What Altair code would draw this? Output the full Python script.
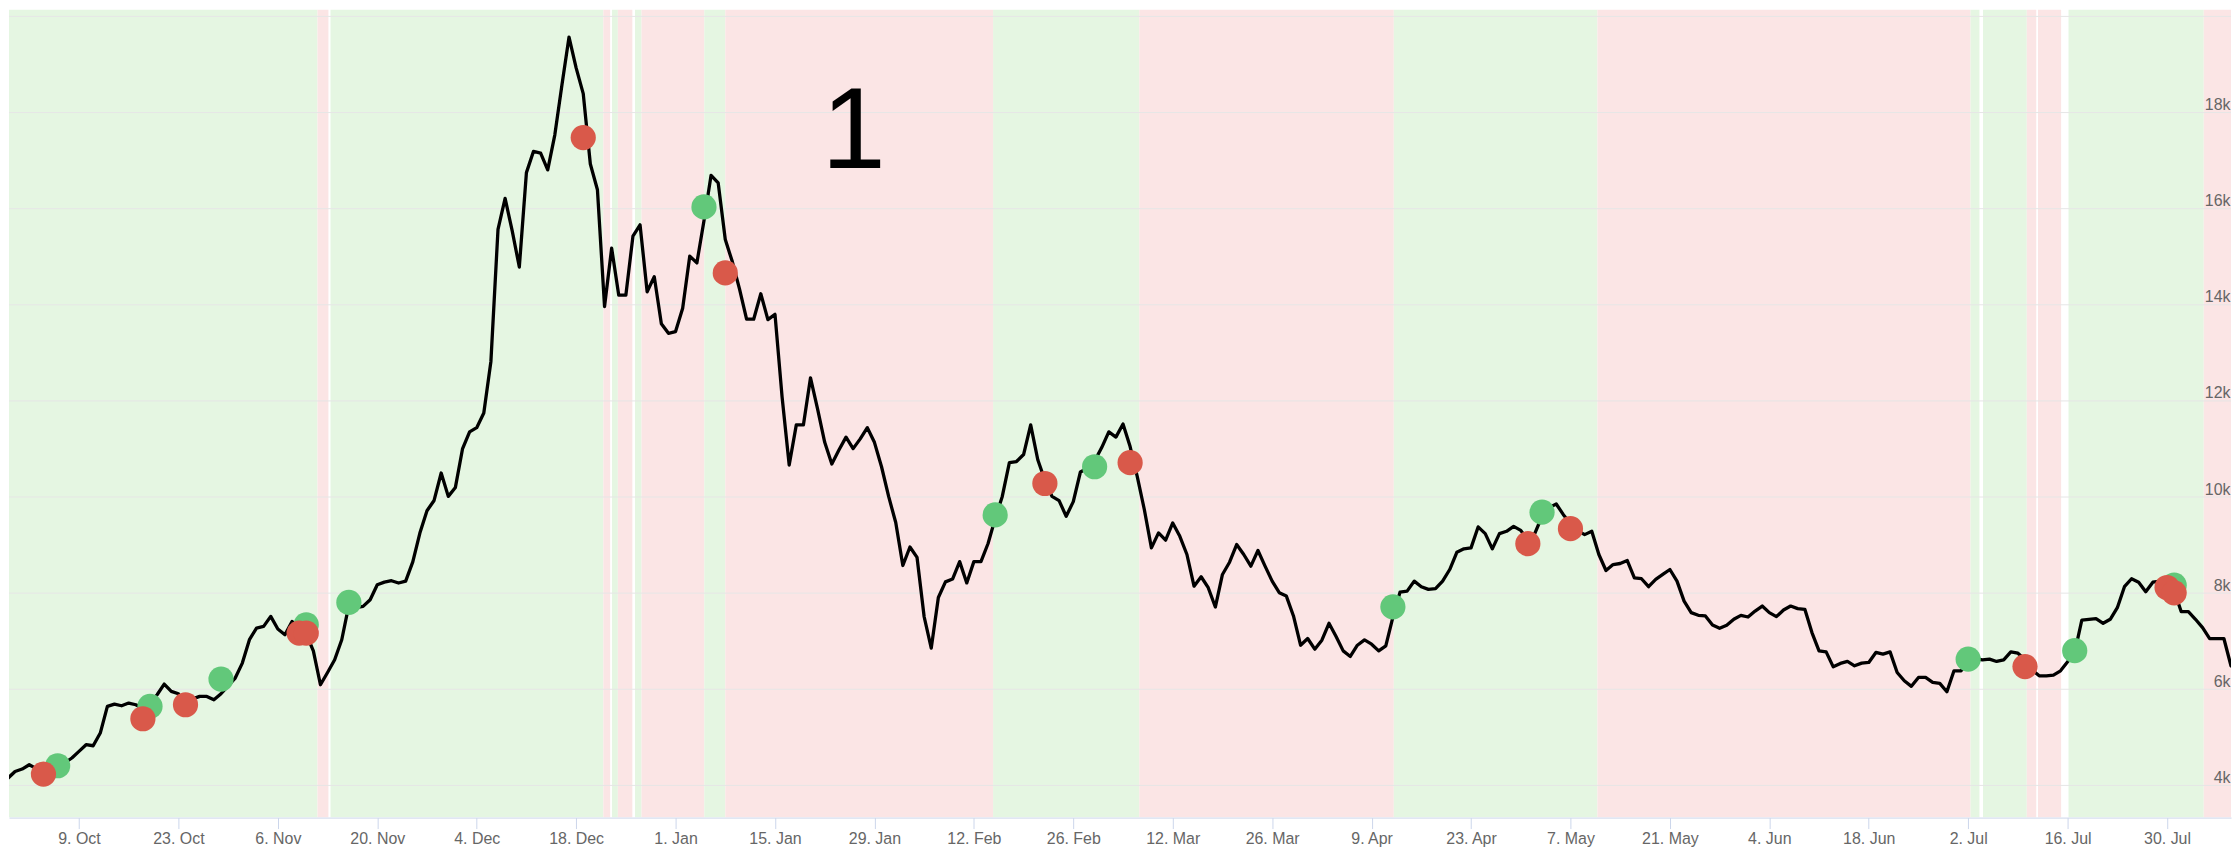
import altair as alt
import pandas as pd

# ---------------- data ----------------
price_start = "2017-09-28"
prices = [
    4190, 4150, 4290, 4340, 4430, 4350, 4260, 4340, 4400, 4470,
    4570, 4707, 4846, 4825, 5089, 5644, 5692, 5657, 5713, 5678,
    5600, 5720, 5886, 6108, 5956, 5907, 5600, 5800, 5852, 5852,
    5782, 5907, 6070, 6233, 6545, 7031, 7274, 7308, 7517, 7253,
    7135, 7412, 7250, 7150, 6800, 6094, 6350, 6615, 7031, 7750,
    7700, 7725, 7863, 8176, 8230, 8259, 8211, 8250, 8650, 9250,
    9714, 9929, 10500, 10014, 10200, 11000, 11357, 11443, 11750, 12821,
    15571, 16214, 15536, 14786, 16750, 17193, 17157, 16807, 17536, 18571,
    19571, 18929, 18393, 16929, 16393, 13964, 15179, 14200, 14200, 15429,
    15664, 14271, 14586, 13607, 13407, 13443, 13929, 15014, 14871, 15750,
    16693, 16536, 15357, 14893, 14330, 13700, 13700, 14230, 13692, 13801,
    12081, 10666, 11501, 11501, 12480, 11827, 11138, 10688, 10978, 11247,
    11007, 11210, 11443, 11138, 10630, 10013, 9469, 8576, 8961, 8743,
    7509, 6856, 7909, 8235, 8293, 8656, 8213, 8656, 8656, 9033,
    9550, 10013, 10717, 10739, 10884, 11501, 10775, 10350, 10013, 9926,
    9599, 9904, 10521, 10600, 10750, 11029, 11356, 11247, 11520, 11050,
    10430, 9740, 8942, 9254, 9103, 9461, 9183, 8804, 8146, 8341,
    8113, 7711, 8389, 8644, 9011, 8804, 8561, 8887, 8561, 8250,
    8010, 7939, 7525, 6917, 7056, 6834, 7021, 7373, 7097, 6799,
    6683, 6917, 7027, 6938, 6799, 6903, 7500, 8022, 8043, 8250,
    8134, 8078, 8092, 8250, 8492, 8851, 8922, 8942, 9378, 9239,
    8922, 9239, 9287, 9390, 9307, 9100, 9250, 9600, 9780, 9855,
    9633, 9450, 9300, 9218, 9287, 8804, 8472, 8596, 8617, 8679,
    8320, 8300, 8134, 8285, 8389, 8492, 8250, 7835, 7595, 7539,
    7525, 7338, 7269, 7332, 7456, 7539, 7504, 7628, 7732, 7595,
    7512, 7649, 7732, 7678, 7663, 7180, 6799, 6778, 6467, 6538,
    6579, 6488, 6544, 6558, 6766, 6731, 6778, 6350, 6177, 6061,
    6247, 6247, 6144, 6123, 5949, 6384, 6384, 6580, 6640, 6612,
    6627, 6579, 6612, 6778, 6751, 6620, 6400, 6280, 6280, 6295,
    6384, 6571, 6766, 7441, 7456, 7470, 7373, 7456, 7698, 8134,
    8300, 8229, 8030, 8229, 8250, 8150, 8050, 7615, 7615, 7456,
    7284, 7056, 7056, 7056, 6488, 6384,
]

band_starts = [
    "2017-09-28T00:00:00Z", "2017-11-11T14:00:00Z", "2017-11-13T10:00:00Z",
    "2017-12-21T20:00:00Z", "2017-12-23T01:00:00Z", "2017-12-23T21:00:00Z",
    "2017-12-26T07:00:00Z", "2017-12-27T05:00:00Z", "2018-01-05T01:00:00Z",
    "2018-01-08T00:00:00Z", "2018-02-14T17:00:00Z", "2018-03-07T07:00:00Z",
    "2018-04-12T03:00:00Z", "2018-05-10T19:00:00Z", "2018-07-02T08:00:00Z",
    "2018-07-04T02:00:00Z", "2018-07-10T06:00:00Z", "2018-07-11T20:00:00Z",
    "2018-07-16T03:00:00Z", "2018-08-04T04:00:00Z",
]
band_ends = [
    "2017-11-11T14:00:00Z", "2017-11-13T03:00:00Z", "2017-12-21T20:00:00Z",
    "2017-12-22T19:00:00Z", "2017-12-23T21:00:00Z", "2017-12-25T22:00:00Z",
    "2017-12-27T05:00:00Z", "2018-01-05T01:00:00Z", "2018-01-08T00:00:00Z",
    "2018-02-14T17:00:00Z", "2018-03-07T07:00:00Z", "2018-04-12T03:00:00Z",
    "2018-05-10T19:00:00Z", "2018-07-02T08:00:00Z", "2018-07-03T14:00:00Z",
    "2018-07-10T06:00:00Z", "2018-07-11T14:00:00Z", "2018-07-15T02:00:00Z",
    "2018-08-04T04:00:00Z", "2018-08-09T00:00:00Z",
]
band_kinds = [
    "up", "down", "up", "down", "up", "down", "up", "down", "up", "down",
    "up", "down", "up", "down", "up", "up", "down", "down", "up", "down",
]

buy_dates = ["2017-10-06", "2017-10-19", "2017-10-29", "2017-11-10", "2017-11-16",
             "2018-01-05", "2018-02-15", "2018-03-01", "2018-04-12", "2018-05-03",
             "2018-07-02", "2018-07-17", "2018-07-31"]
buy_prices = [4409, 5644, 6212, 7343, 7808, 16036, 9628, 10630, 7716, 9685,
              6626, 6804, 8166]

sell_dates = ["2017-10-04", "2017-10-18", "2017-10-24", "2017-11-09", "2017-11-10",
              "2017-12-19", "2018-01-08", "2018-02-22", "2018-03-06", "2018-05-01",
              "2018-05-07", "2018-07-10", "2018-07-30", "2018-07-31"]
sell_prices = [4235, 5387, 5678, 7170, 7170, 17479, 14664, 10282, 10715, 9030,
               9341, 6472, 8118, 8006]

tick_dates = ["2017-10-09", "2017-10-23", "2017-11-06", "2017-11-20", "2017-12-04",
              "2017-12-18", "2018-01-01", "2018-01-15", "2018-01-29", "2018-02-12",
              "2018-02-26", "2018-03-12", "2018-03-26", "2018-04-09", "2018-04-23",
              "2018-05-07", "2018-05-21", "2018-06-04", "2018-06-18", "2018-07-02",
              "2018-07-16", "2018-07-30"]
y_label_values = [4000, 6000, 8000, 10000, 12000, 14000, 16000, 18000]
grid_values = [4000, 6000, 8000, 10000, 12000, 14000, 16000, 18000, 20000]

x_domain_dates = ["2017-09-29T03:33:00Z", "2018-08-08T00:05:00Z"]
y_domain = [3330, 20144]

note_dates = ["2018-01-26T02:00:00Z"]
note_prices = [16848]
note_texts = ["1"]

GREEN_BAND = "#e5f6e2"
RED_BAND = "#fbe5e5"
GREEN_DOT = "#62c87a"
RED_DOT = "#d9594a"
FONT = "Liberation Sans"


def ms(s):
    t = pd.Timestamp(s)
    if t.tzinfo is None:
        t = t.tz_localize("UTC")
    return int(t.value // 10**6)


# ---------------- tables ----------------
line_df = pd.DataFrame({
    "date": pd.date_range(price_start, periods=len(prices), freq="D").strftime("%Y-%m-%d"),
    "price": prices,
})
band_df = pd.DataFrame({"start": band_starts, "end": band_ends, "kind": band_kinds})
buy_df = pd.DataFrame({"date": buy_dates, "price": buy_prices})
sell_df = pd.DataFrame({"date": sell_dates, "price": sell_prices})
grid_df = pd.DataFrame({"price": grid_values})
note_df = pd.DataFrame({"date": note_dates, "price": note_prices, "text": note_texts})

x_scale = alt.Scale(type="utc", domain=[ms(s) for s in x_domain_dates], nice=False)
y_scale = alt.Scale(domain=y_domain, nice=False, zero=False)

x_axis = alt.Axis(
    values=[ms(s) for s in tick_dates], format="%-d. %b", title=None, grid=False,
    labelFont=FONT, labelFontSize=16, labelColor="#666666",
    tickColor="#ccd6eb", domainColor="#ccd6eb", tickSize=11,
    labelBaseline="alphabetic", labelPadding=15, labelOverlap=False,
    labelFlush=False, zindex=1,
)
y_axis = alt.Axis(
    orient="right", values=y_label_values, format="~s", title=None, grid=False,
    domain=False, ticks=False, tickSize=0, labelPadding=-1, labelAlign="right",
    labelBaseline="alphabetic", labelOffset=-3, labelFont=FONT, labelFontSize=16,
    labelColor="#666666", zindex=1,
)

X = lambda f: alt.X(f"{f}:T", scale=x_scale, axis=x_axis)
Y = lambda f: alt.Y(f"{f}:Q", scale=y_scale, axis=y_axis)

bands = alt.Chart(band_df).mark_rect(clip=True).encode(
    x=X("start"),
    x2="end:T",
    color=alt.Color("kind:N", scale=alt.Scale(domain=["up", "down"],
                                              range=[GREEN_BAND, RED_BAND]), legend=None),
)

grid = alt.Chart(grid_df).mark_rule(color="#e6e6e6", strokeWidth=1).encode(y=Y("price"))

line = alt.Chart(line_df).mark_line(
    color="black", strokeWidth=3.3, clip=True, strokeJoin="round", strokeCap="round"
).encode(x=X("date"), y=Y("price"))

buys = alt.Chart(buy_df).mark_circle(size=640, color=GREEN_DOT, opacity=1).encode(
    x=X("date"), y=Y("price"))
sells = alt.Chart(sell_df).mark_circle(size=640, color=RED_DOT, opacity=1).encode(
    x=X("date"), y=Y("price"))

note = alt.Chart(note_df).mark_text(
    font=FONT, fontSize=116, align="center", baseline="alphabetic", color="black"
).encode(x=X("date"), y=Y("price"), text="text:N")

chart = alt.layer(bands, grid, line, buys, sells, note).properties(
    width=2230, height=811, padding=0
).configure_view(stroke=None)

chart.save("out.html", embed_options={"renderer": "svg", "actions": False})
